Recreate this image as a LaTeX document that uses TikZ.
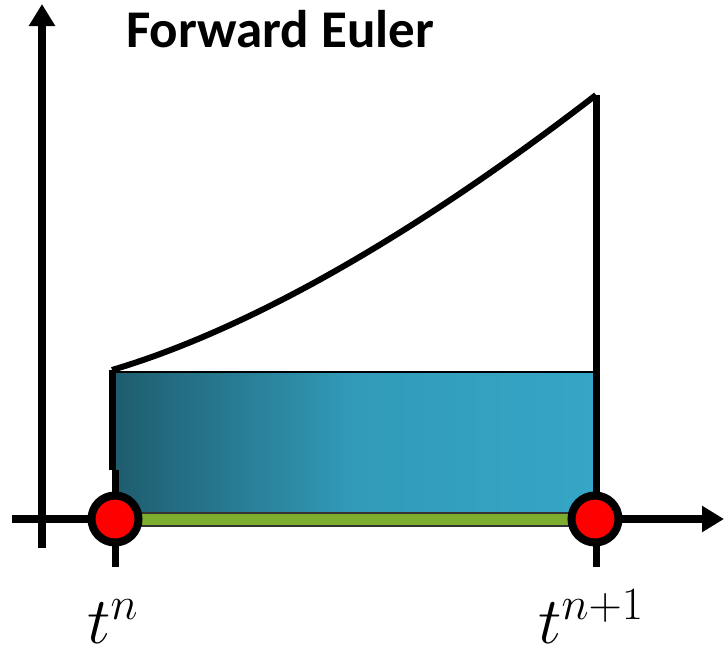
\RequirePackage{fix-cm}
\documentclass[tikz,border=0pt]{standalone}
\usepackage{fontspec}
\newfontfamily\titlefont{Carlito}
\usetikzlibrary{arrows.meta}
\definecolor{tealdark}{HTML}{1E5C6E}
\definecolor{teallight}{HTML}{35A6C6}
\definecolor{barGreen}{HTML}{7CAD2F}
\definecolor{dotRed}{HTML}{FF0000}
\tikzset{
  axis/.style={line width=8pt,-{Triangle[length=22pt,width=25pt]}},
  edge/.style={line width=7pt},
  tick/.style={line width=7pt},
  dot/.style={circle,fill=dotRed,draw=black,line width=8pt,minimum size=47pt,inner sep=0pt},
  lab/.style={font=\fontsize{66}{70}\selectfont,inner sep=0pt,anchor=base west}
}
\begin{document}
\begin{tikzpicture}[x=1pt,y=-1pt]
\useasboundingbox (0,0) rectangle (724,656);
% shaded area
\shade[left color=tealdark,right color=teallight,middle color=teallight!85!tealdark] (113,372) rectangle (596,513);
\draw[line width=2pt] (113,372) -- (596,372);
% curve and sides
\coordinate (a) at (112,370);
\coordinate (b) at (596,95);
\draw[line width=6pt,line join=round] (a) .. controls (280,320) and (460,200) .. (b);
\coordinate (aL) at (112,470);
\coordinate (bL) at (596,470);
\draw[edge] (a) -- (aL);
\draw[edge] (b) -- (bL);
% axes
\coordinate (yb) at (42,548);
\coordinate (yt) at (42,4);
\coordinate (xl) at (12,519);
\coordinate (xr) at (724,519);
\draw[axis] (yb) -- (yt);
\draw[axis] (xl) -- (xr);
% green bar
\draw[fill=barGreen,draw=black!80,line width=1.5pt] (113,513) rectangle (596,526);
% ticks
\coordinate (t1a) at (115,470);
\coordinate (t1b) at (115,567);
\coordinate (t2a) at (596,470);
\coordinate (t2b) at (596,567);
\draw[tick] (t1a) -- (t1b);
\draw[tick] (t2a) -- (t2b);
% dots
\node[dot] (p1) at (115,519) {};
\node[dot] (p2) at (595,519) {};
% labels
\node[lab] (l1) at (87,643) {$t^{n}$};
\node[lab] (l2) at (538,643) {$t^{n+1}$};
\node[anchor=base west,inner sep=0pt,font=\titlefont\bfseries\fontsize{53}{58}\selectfont] (title) at (126,47) {Forward Euler};
\end{tikzpicture}
\end{document}
